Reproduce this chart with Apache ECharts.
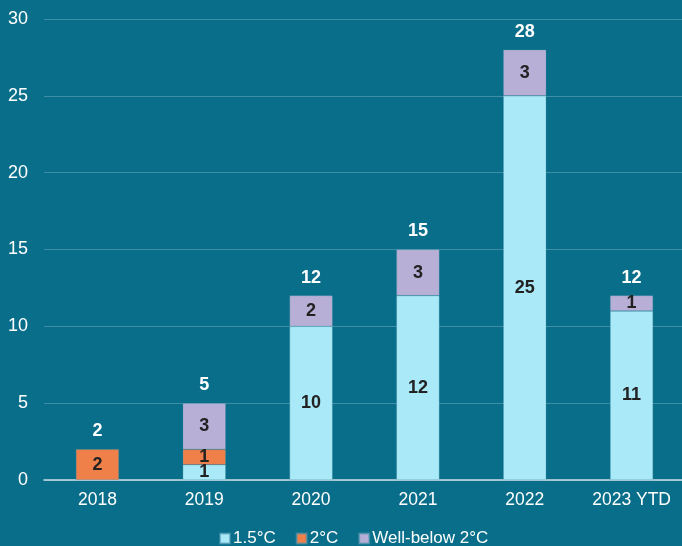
<!DOCTYPE html>
<html><head><meta charset="utf-8">
<script src="https://cdn.jsdelivr.net/npm/echarts@6/dist/echarts.min.js"></script>
<style>html,body{margin:0;padding:0;background:#096e89;overflow:hidden;width:682px;height:546px;}#c{width:685px;height:546px;}</style>
</head><body><div id="c"></div>
<script>
const categories = ['2018', '2019', '2020', '2021', '2022', '2023 YTD'];
const s15 = [null, 1, 10, 12, 25, 11];
const s2 = [2, 1, null, null, null, null];
const sWB = [null, 3, 2, 3, 3, 1];
const yTicks = [0, 5, 10, 15, 20, 25, 30];
const seriesNames = ['1.5°C', '2°C', 'Well-below 2°C'];
const colors = ['#a9e9f8', '#f0804a', '#b8afd6'];

const totals = categories.map((_, i) => (s15[i] || 0) + (s2[i] || 0) + (sWB[i] || 0));

const FONT = 'Liberation Sans, Arial, sans-serif';
const chart = echarts.init(document.getElementById('c'));
const innerLabel = {
  show: true, position: 'inside', color: '#222', fontWeight: 'bold',
  fontSize: 18, fontFamily: FONT
};
const mk = (name, data, color) => ({
  name, type: 'bar', stack: 'a', data, barWidth: 43,
  itemStyle: { color, borderColor: 'rgba(80,150,175,0.6)', borderWidth: 0.5 },
  label: innerLabel
});
chart.setOption({
  backgroundColor: '#096e89',
  animation: false,
  textStyle: { fontFamily: FONT },
  grid: { left: 44, right: 0, top: 19, bottom: 66 },
  legend: {
    bottom: -6, left: 214, itemWidth: 10, itemHeight: 10, itemGap: 20,
    icon: 'rect',
    data: seriesNames,
    textStyle: { color: '#ffffff', fontSize: 17, fontFamily: FONT, padding: [0, 0, 0, -2] }
  },
  xAxis: {
    type: 'category', data: categories,
    axisLine: { lineStyle: { color: '#d0dde2', width: 1.5 } },
    axisTick: { show: false },
    axisLabel: { color: '#ffffff', fontSize: 17.5, margin: 11 }
  },
  yAxis: {
    type: 'value', min: yTicks[0], max: yTicks[yTicks.length - 1], interval: 5,
    axisLine: { show: false }, axisTick: { show: false },
    axisLabel: { color: '#ffffff', fontSize: 18, margin: 16 },
    splitLine: { lineStyle: { color: '#3f8ea5', width: 1 } }
  },
  series: [
    mk(seriesNames[0], s15, colors[0]),
    mk(seriesNames[1], s2, colors[1]),
    mk(seriesNames[2], sWB, colors[2]),
    {
      name: 'Total', type: 'scatter', data: totals, symbolSize: 0,
      itemStyle: { opacity: 1 },
      label: {
        show: true, position: 'top', distance: 9, color: '#ffffff', fontWeight: 'bold',
        fontSize: 18, fontFamily: FONT
      },
      tooltip: { show: false }
    }
  ]
});
</script></body></html>
